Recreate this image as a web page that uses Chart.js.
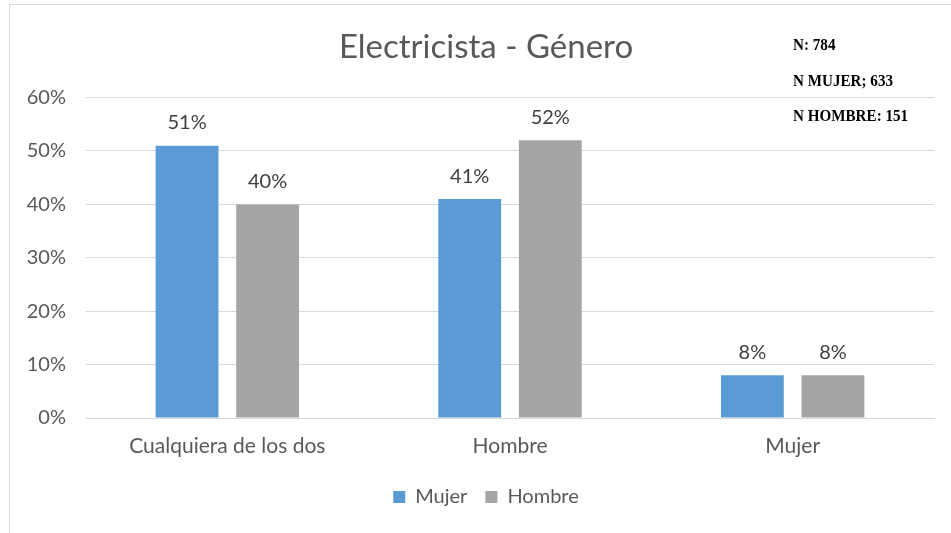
<!DOCTYPE html>
<html>
<head>
<meta charset="utf-8">
<script src="https://cdn.jsdelivr.net/npm/chart.js@4/dist/chart.umd.min.js"></script>
<style>
  html, body { margin: 0; padding: 0; background: #fff; overflow: hidden; }
  #frame {
    position: absolute; left: 9px; top: 4px;
    width: 952px; height: 529px;
    border-left: 1px solid #d9d9d9; border-top: 1px solid #d9d9d9;
  }
</style>
</head>
<body>
<div id="frame"><canvas id="myChart" width="952" height="528"></canvas></div>
<script>
// categories and series (percent)
const categories = ['Cualquiera de los dos', 'Hombre', 'Mujer'];
const mujer = [51, 41, 8];
const hombre = [40, 52, 8];
const yTicks = [0, 10, 20, 30, 40, 50, 60];
const notes = ['N: 784', 'N MUJER; 633', 'N HOMBRE: 151'];

const FONT = 'Lato, "Noto Sans", sans-serif';

// value labels above each bar
const barLabels = {
  id: 'barLabels',
  afterDatasetsDraw(chart) {
    const ctx = chart.ctx;
    ctx.save();
    ctx.font = '20px ' + FONT;
    ctx.fillStyle = '#404040';
    ctx.textAlign = 'center';
    ctx.textBaseline = 'bottom';
    chart.data.datasets.forEach((ds, i) => {
      chart.getDatasetMeta(i).data.forEach((bar, j) => {
        ctx.fillText(ds.data[j] + '%', bar.x, bar.y - 13);
      });
    });
    ctx.restore();
  }
};

// sample size notes, top right
const sampleNotes = {
  id: 'sampleNotes',
  afterDraw(chart) {
    const ctx = chart.ctx;
    ctx.save();
    ctx.font = 'bold 17px "Liberation Serif", "Times New Roman", serif';
    ctx.fillStyle = '#000';
    ctx.textBaseline = 'middle';
    const rows = [41, 77, 112];
    notes.forEach((t, i) => {
      ctx.save();
      ctx.translate(783, rows[i]);
      ctx.scale(0.89, 1);
      ctx.fillText(t, 0, 0);
      ctx.restore();
    });
    ctx.restore();
  }
};

const ctx = document.getElementById('myChart').getContext('2d');
new Chart(ctx, {
  type: 'bar',
  data: {
    labels: categories,
    datasets: [
      { label: 'Mujer', data: mujer, backgroundColor: '#5B9BD5', borderWidth: 0 },
      { label: 'Hombre', data: hombre, backgroundColor: '#A5A5A5', borderWidth: 0 }
    ]
  },
  options: {
    responsive: false,
    animation: false,
    devicePixelRatio: 1,
    categoryPercentage: 0.57,
    barPercentage: 0.78,
    layout: { padding: { left: 0, right: 0, top: 0, bottom: 16 } },
    plugins: {
      title: {
        display: true,
        text: 'Electricista - Género',
        color: '#595959',
        font: { family: FONT, size: 33, weight: 'normal' },
        padding: { top: 23, bottom: 30 }
      },
      legend: {
        position: 'bottom',
        labels: {
          color: '#595959',
          font: { family: FONT, size: 20 },
          boxWidth: 12,
          boxHeight: 12,
          padding: 18
        }
      },
      tooltip: { enabled: false }
    },
    scales: {
      x: {
        grid: { display: false, drawTicks: false },
        border: { color: '#d9d9d9' },
        ticks: { color: '#595959', font: { family: FONT, size: 21 }, padding: 16, maxRotation: 0 },
        afterFit(scale) { scale.height = 51; }
      },
      y: {
        min: 0,
        max: 60,
        afterBuildTicks(scale) { scale.ticks = yTicks.map(v => ({ value: v })); },
        grid: { color: '#d9d9d9', drawTicks: false },
        border: { display: false },
        ticks: {
          color: '#595959',
          font: { family: FONT, size: 20 },
          padding: 20,
          callback: v => v + '%'
        },
        afterFit(scale) { scale.width = 76; }
      },
      // empty right margin so the plot ends short of the frame
      yRight: {
        position: 'right',
        grid: { display: false, drawTicks: false },
        border: { display: false },
        ticks: { display: false },
        afterFit(scale) { scale.width = 28; }
      }
    }
  },
  plugins: [barLabels, sampleNotes]
});
</script>
</body>
</html>
